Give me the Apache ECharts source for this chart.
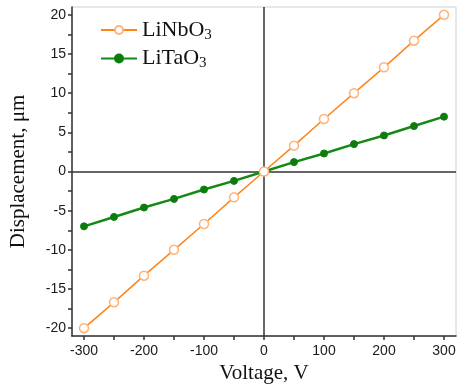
<!DOCTYPE html>
<html>
<head>
<meta charset="utf-8">
<script src="https://cdn.jsdelivr.net/npm/echarts@6/dist/echarts.min.js"></script>
<style>
  html, body { margin: 0; padding: 0; background: #fff; }
  #chart { width: 463px; height: 391px; }
</style>
</head>
<body>
<div id="chart"></div>
<script>
// voltage steps (V)
const voltage = [-300, -250, -200, -150, -100, -50, 0, 50, 100, 150, 200, 250, 300];
// displacement (um)
const linbo3 = [-20, -16.7, -13.3, -10, -6.7, -3.3, 0, 3.3, 6.7, 10, 13.3, 16.7, 20];
const litao3 = [-7, -5.8, -4.6, -3.5, -2.3, -1.2, 0, 1.2, 2.3, 3.5, 4.6, 5.8, 7];

const xLabels = [-300, -200, -100, 0, 100, 200, 300];
const xTicks = [-300, -250, -200, -150, -100, -50, 0, 50, 100, 150, 200, 250, 300];
const yLabels = [-20, -15, -10, -5, 0, 5, 10, 15, 20];
const yTicks = [-20, -17.5, -15, -12.5, -10, -7.5, -5, -2.5, 0, 2.5, 5, 7.5, 10, 12.5, 15, 17.5, 20];

window.addEventListener("load", () => {
  let chart = echarts.init(document.getElementById("chart"), null, { renderer: 'canvas' });

  const tickFont = { fontFamily: 'Liberation Sans', fontSize: 14, color: '#1a1a1a' };

  let option = {
    backgroundColor: '#fff',
    animation: false,
    grid: {
      left: 58, right: 7, top: 7, bottom: 55,
      show: true, borderColor: '#d0d0d0', borderWidth: 1
    },
    legend: {
      left: 95, top: 14,
      orient: 'vertical',
      itemWidth: 36, itemHeight: 10, itemGap: 5,
      textStyle: {
        fontFamily: 'Liberation Serif', fontSize: 22, color: '#111',
        rich: {
          a: { fontFamily: 'Liberation Serif', fontSize: 22, color: '#111' },
          s: { fontFamily: 'Liberation Serif', fontSize: 15, color: '#111', verticalAlign: 'bottom', padding: [10, 0, 0, 0] }
        }
      },
      formatter: (name) => '{a|' + name.slice(0, -1) + '}{s|' + name.slice(-1) + '}',
      data: ['LiNbO3', 'LiTaO3']
    },
    xAxis: {
      type: 'value', min: -320, max: 320,
      name: 'Voltage, V', nameLocation: 'middle', nameGap: 24,
      nameTextStyle: { fontFamily: 'Liberation Serif', fontSize: 21, color: '#111' },
      axisLine: { onZero: false, lineStyle: { color: '#333', width: 1.5 } },
      axisTick: { inside: false, length: 4, customValues: xTicks, lineStyle: { color: '#333', width: 1.5 } },
      axisLabel: Object.assign({ customValues: xLabels, margin: 8 }, tickFont),
      splitLine: { show: false }
    },
    yAxis: {
      type: 'value', min: -21, max: 21,
      name: 'Displacement, μm', nameLocation: 'middle', nameGap: 43,
      nameTextStyle: { fontFamily: 'Liberation Serif', fontSize: 21, color: '#111' },
      axisLine: { onZero: false, lineStyle: { color: '#333', width: 1.5 } },
      axisTick: { inside: false, length: 4, customValues: yTicks, lineStyle: { color: '#333', width: 1.5 } },
      axisLabel: Object.assign({ customValues: yLabels, margin: 6 }, tickFont),
      splitLine: { show: false }
    },
    series: [
      {
        name: 'LiNbO3', type: 'line',
        data: voltage.map((v, i) => [v, linbo3[i]]),
        symbol: 'circle', symbolSize: 9, showAllSymbol: true,
        lineStyle: { color: '#ff8419', width: 1.5 },
        itemStyle: { color: '#fff', borderColor: '#ffb37a', borderWidth: 1.5 },
        z: 3,
        markLine: {
          silent: true, symbol: 'none', label: { show: false },
          lineStyle: { color: '#333', width: 1.5, type: 'solid' },
          data: [{ xAxis: 0 }, { yAxis: 0 }],
          z: 1
        }
      },
      {
        name: 'LiTaO3', type: 'line',
        data: voltage.map((v, i) => [v, litao3[i]]),
        symbol: 'circle', symbolSize: 7, showAllSymbol: true,
        lineStyle: { color: '#148a14', width: 2.5 },
        itemStyle: { color: '#0c7d0c', borderColor: '#0c7d0c', borderWidth: 1 },
        z: 2
      }
    ]
  };

  chart.setOption(option);
  window.addEventListener('resize', chart.resize);
});
</script>
</body>
</html>
